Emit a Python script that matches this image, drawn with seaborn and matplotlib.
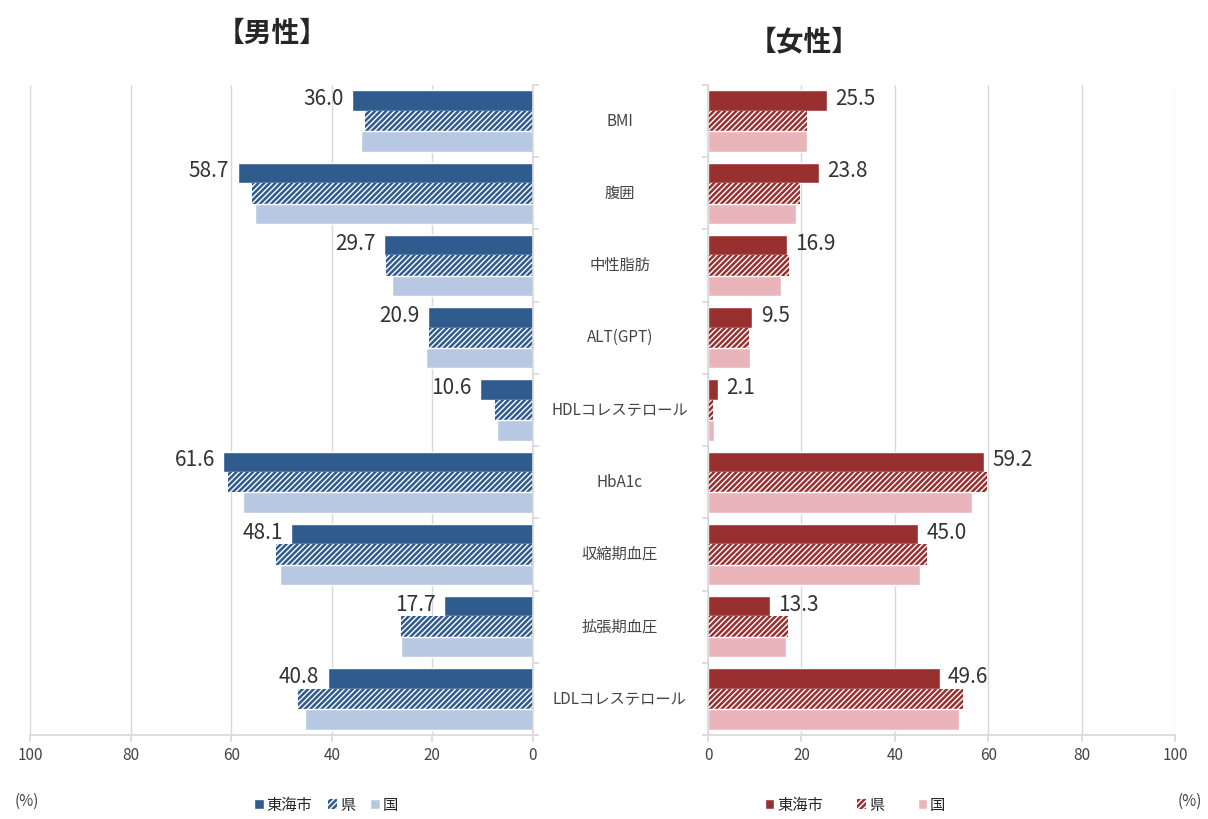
import pandas as pd
import seaborn as sns
import matplotlib.pyplot as plt
import matplotlib.transforms as mtransforms
from matplotlib.patches import Patch

# data (%)
items = ["BMI", "腹囲", "中性脂肪", "ALT(GPT)", "HDLコレステロール",
         "HbA1c", "収縮期血圧", "拡張期血圧", "LDLコレステロール"]
areas = ["東海市", "県", "国"]

male_city = [36.0, 58.7, 29.7, 20.9, 10.6, 61.6, 48.1, 17.7, 40.8]
male_pref = [33.4, 55.9, 29.2, 20.7, 7.6, 60.7, 51.0, 26.3, 46.7]
male_nat = [34.2, 55.3, 28.1, 21.3, 7.2, 57.7, 50.2, 26.3, 45.3]

female_city = [25.5, 23.8, 16.9, 9.5, 2.1, 59.2, 45.0, 13.3, 49.6]
female_pref = [21.1, 19.7, 17.3, 8.8, 1.1, 59.7, 46.9, 17.2, 54.6]
female_nat = [21.2, 18.8, 15.6, 9.0, 1.3, 56.5, 45.4, 16.7, 53.7]

xticks = [0, 20, 40, 60, 80, 100]

male_colors = ["#2f5b8e", "#2f5b8e", "#b7c9e2"]
female_colors = ["#983030", "#983030", "#e9b5ba"]


def long_df(city, pref, nat):
    rows = []
    for series, vals in zip(areas, [city, pref, nat]):
        for it, v in zip(items, vals):
            rows.append({"item": it, "area": series, "value": v})
    return pd.DataFrame(rows)


df_m = long_df(male_city, male_pref, male_nat)
df_f = long_df(female_city, female_pref, female_nat)

sns.set_theme(style="white")
plt.rcParams["font.family"] = ["Noto Sans CJK JP", "DejaVu Sans"]
plt.rcParams["hatch.linewidth"] = 1.0

fig = plt.figure(figsize=(12.08, 8.19), dpi=100)
ax_m = fig.add_axes([0.0248, 0.1026, 0.4164, 0.7936])
ax_f = fig.add_axes([0.5861, 0.1026, 0.3866, 0.7936])

grid_c = "#d9d9d9"
hatch = "//////"

for ax, df, cols, side in [(ax_m, df_m, male_colors, "m"), (ax_f, df_f, female_colors, "f")]:
    sns.barplot(data=df, y="item", x="value", hue="area", hue_order=areas,
                palette=cols, orient="h", width=0.85, ax=ax, legend=False,
                errorbar=None, saturation=1)
    for bar in ax.containers[1]:
        bar.set_hatch(hatch)
        bar.set_edgecolor("white")
        bar.set_linewidth(0)

    # value labels for 東海市 at the end of each bar
    off = -6 if side == "m" else 6
    ha = "right" if side == "m" else "left"
    for bar in ax.containers[0]:
        w = bar.get_width()
        yc = bar.get_y() + bar.get_height() / 2
        ax.annotate(f"{w:.1f}", xy=(w, yc), xytext=(off, 1), textcoords="offset points",
                    ha=ha, va="center", fontsize=15, color="#333333")

    ax.set_xlim(0, 100)
    ax.set_ylim(len(items) - 0.5, -0.5)
    ax.set_xticks(xticks)
    ax.set_xlabel("")
    ax.set_ylabel("")
    ax.set_yticks([i - 0.5 for i in range(len(items) + 1)])
    ax.set_yticklabels([])
    ax.grid(axis="x", color=grid_c, linewidth=1)
    ax.set_axisbelow(True)
    ax.tick_params(axis="x", labelsize=11, colors="#444444", length=5, color=grid_c, bottom=True)
    ax.tick_params(axis="y", length=4, color=grid_c)
    for s in ["top", "left", "right", "bottom"]:
        ax.spines[s].set_visible(False)
    ax.spines["bottom"].set_visible(True)
    ax.spines["bottom"].set_color(grid_c)
    if side == "m":
        ax.invert_xaxis()
        ax.spines["right"].set_visible(True)
        ax.spines["right"].set_color(grid_c)
        ax.yaxis.tick_right()
    else:
        ax.spines["left"].set_visible(True)
        ax.spines["left"].set_color(grid_c)
        ax.yaxis.tick_left()

# category labels in the gap between the panels
trans = mtransforms.blended_transform_factory(fig.transFigure, ax_f.transData)
for i, it in enumerate(items):
    fig.text(0.513, i, it, transform=trans, ha="center", va="center",
             fontsize=11, color="#444444")

fig.text(0.225, 0.958, "【男性】", ha="center", va="center", fontsize=20, fontweight="bold")
fig.text(0.666, 0.948, "【女性】", ha="center", va="center", fontsize=20, fontweight="bold")

fig.text(0.012, 0.011, "(%)", ha="left", va="bottom", fontsize=11, color="#444444")
fig.text(0.995, 0.011, "(%)", ha="right", va="bottom", fontsize=11, color="#444444")

hatch_kw = dict(hatch=hatch, edgecolor="white", linewidth=0)
h_m = [Patch(facecolor=male_colors[0]),
       Patch(facecolor=male_colors[1], **hatch_kw),
       Patch(facecolor=male_colors[2])]
h_f = [Patch(facecolor=female_colors[0]),
       Patch(facecolor=female_colors[1], **hatch_kw),
       Patch(facecolor=female_colors[2])]

leg_kw = dict(ncol=3, frameon=False, fontsize=11, handlelength=0.6, handleheight=0.6,
              handletextpad=0.2, columnspacing=1.0, loc="center")
fig.legend(h_m, areas, bbox_to_anchor=(0.27, 0.017), **leg_kw)
leg_kw["columnspacing"] = 2.2
fig.legend(h_f, areas, bbox_to_anchor=(0.708, 0.017), **leg_kw)

fig.savefig("out.png", dpi=100)
